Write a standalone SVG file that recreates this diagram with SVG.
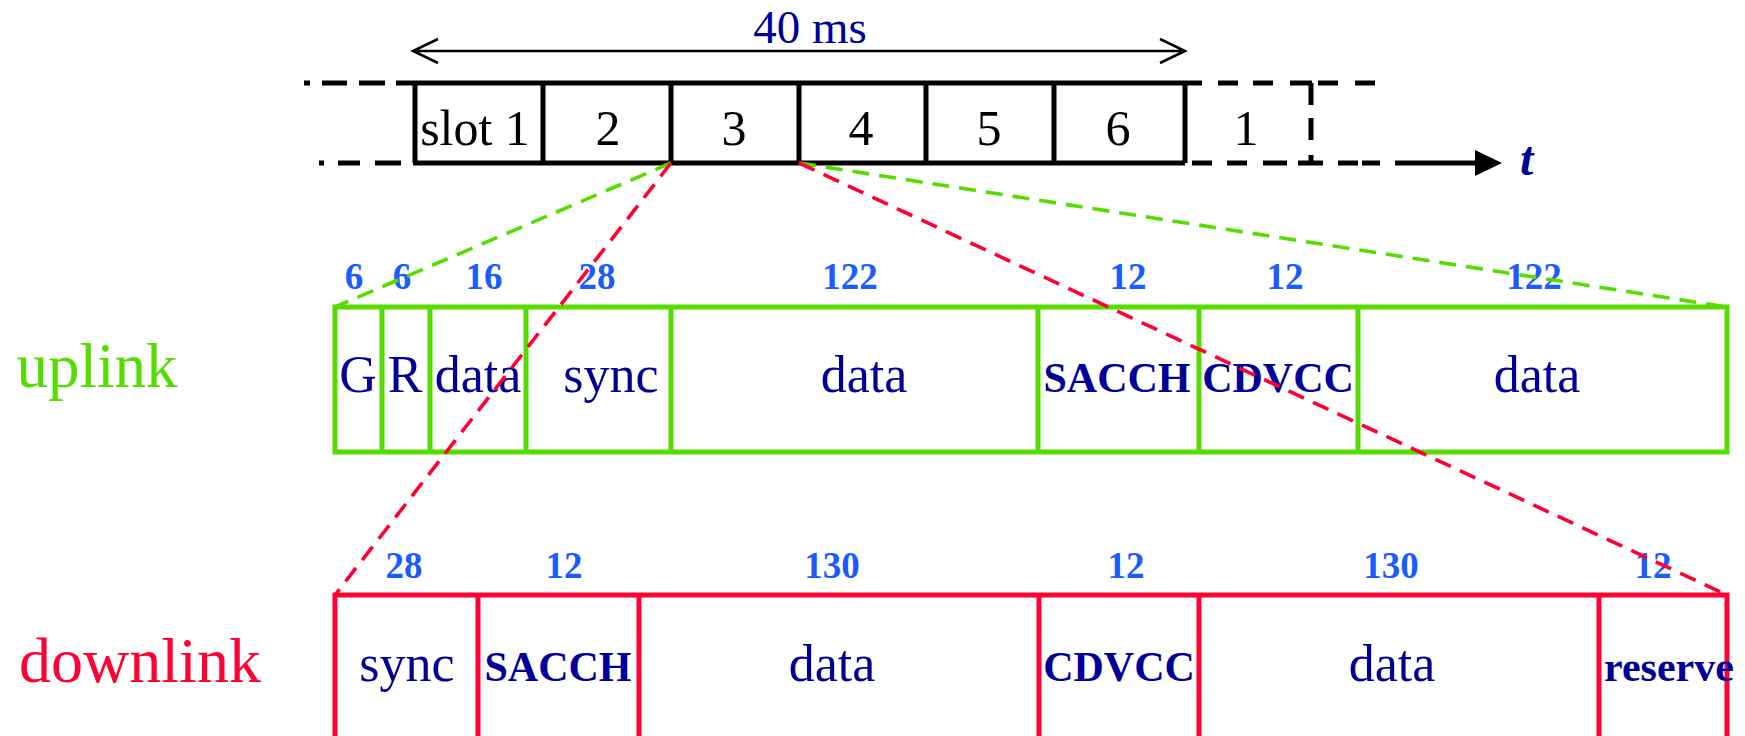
<svg xmlns="http://www.w3.org/2000/svg" width="1745" height="736" viewBox="0 0 1745 736">
  <style>
    .lbl { font-family: "Liberation Serif", "Times New Roman", serif; fill: #000099; text-anchor: middle; }
    .reg { font-size: 52px; }
    .bold { font-size: 42px; font-weight: bold; }
    .num { font-family: "Liberation Serif", "Times New Roman", serif; font-size: 37px; font-weight: bold; fill: #1a5cff; text-anchor: middle; }
    .slot { font-family: "Liberation Serif", "Times New Roman", serif; font-size: 50px; fill: #000000; text-anchor: middle; }
    .frame { fill: none; stroke: #000000; stroke-width: 5; }
    .up { fill: none; stroke: #55dd00; stroke-width: 5; }
    .down { fill: none; stroke: #ff0033; stroke-width: 5; }
    .gz { fill: none; stroke: #55dd00; stroke-width: 3.6; stroke-dasharray: 17 10; }
    .rz { fill: none; stroke: #ff0033; stroke-width: 3.6; stroke-dasharray: 17 10; }
  </style>

  <!-- frame duration -->
  <g id="duration">
    <path d="M413 51 H1185 M438 39 L413 51 L438 63 M1160 39 L1185 51 L1160 63" fill="none" stroke="#000" stroke-width="2.5"/>
    <text x="810" y="43" class="lbl" style="font-size:47px">40 ms</text>
  </g>

  <!-- TDMA frame of six slots -->
  <g id="frame">
    <path class="frame" d="M304 83 h6 M322 83 h25 M359 83 h26 M396 83 H1202"/>
    <path class="frame" d="M319 163 h5 M338 163 h22 M375 163 h26 M413 163 H1185"/>
    <path class="frame" d="M415 83 V163 M543 83 V163 M671 83 V163 M799 83 V163 M926 83 V163 M1054 83 V163 M1185 83 V163"/>
    <path class="frame" d="M1218 83 h20 M1253 83 h20 M1290 83 h22 M1318 83 h20 M1355 83 h20"/>
    <path class="frame" d="M1192 163 h20 M1227 163 h20 M1263 163 h24 M1298 163 h25 M1338 163 h20 M1362 163 h18"/>
    <path class="frame" d="M1311 83 v22 M1311 118 v22 M1311 155 v8"/>
    <path class="frame" d="M1395 163 H1478"/>
    <polygon points="1475,150 1502,163 1475,176" fill="#000"/>
    <text x="1520" y="175" style="font-family:'Liberation Serif',serif;font-size:48px;font-weight:bold;font-style:italic;fill:#000099">t</text>
    <text x="475" y="145" class="slot">slot 1</text>
    <text x="608" y="145" class="slot">2</text>
    <text x="734" y="145" class="slot">3</text>
    <text x="861" y="145" class="slot">4</text>
    <text x="989" y="145" class="slot">5</text>
    <text x="1118" y="145" class="slot">6</text>
    <text x="1246" y="145" class="slot">1</text>
  </g>

  <!-- uplink burst -->
  <g id="uplink">
    <text x="97" y="387" style="font-family:'Liberation Serif',serif;font-size:63px;fill:#55dd00;text-anchor:middle">uplink</text>
    <rect class="up" x="335" y="307" width="1392" height="145"/>
    <path class="up" d="M382 307 V452 M430 307 V452 M526 307 V452 M671 307 V452 M1038 307 V452 M1199 307 V452 M1358 307 V452"/>
    <text x="358" y="392" class="lbl reg">G</text>
    <text x="405" y="392" class="lbl reg">R</text>
    <text x="478" y="392" class="lbl reg">data</text>
    <text x="611" y="392" class="lbl reg">sync</text>
    <text x="864" y="392" class="lbl reg">data</text>
    <text x="1117" y="392" class="lbl bold">SACCH</text>
    <text x="1278" y="392" class="lbl bold">CDVCC</text>
    <text x="1537" y="392" class="lbl reg">data</text>
    <text x="354" y="289" class="num">6</text>
    <text x="402" y="289" class="num">6</text>
    <text x="484" y="289" class="num">16</text>
    <text x="597" y="289" class="num">28</text>
    <text x="850" y="289" class="num">122</text>
    <text x="1128" y="289" class="num">12</text>
    <text x="1285" y="289" class="num">12</text>
    <text x="1534" y="289" class="num">122</text>
  </g>

  <!-- downlink burst -->
  <g id="downlink">
    <text x="140" y="682" style="font-family:'Liberation Serif',serif;font-size:64px;fill:#ff0033;text-anchor:middle">downlink</text>
    <path class="down" d="M335 745 V595 H1727 V745"/>
    <path class="down" d="M478 595 V745 M639 595 V745 M1039 595 V745 M1199 595 V745 M1599 595 V745"/>
    <text x="407" y="681" class="lbl reg">sync</text>
    <text x="558" y="681" class="lbl bold">SACCH</text>
    <text x="832" y="681" class="lbl reg">data</text>
    <text x="1119" y="681" class="lbl bold">CDVCC</text>
    <text x="1392" y="681" class="lbl reg">data</text>
    <text x="1669" y="681" class="lbl bold">reserve</text>
    <text x="404" y="578" class="num">28</text>
    <text x="564" y="578" class="num">12</text>
    <text x="832" y="578" class="num">130</text>
    <text x="1126" y="578" class="num">12</text>
    <text x="1391" y="578" class="num">130</text>
    <text x="1653" y="578" class="num">12</text>
  </g>

  <!-- expansion lines from slot 3 -->
  <g id="connectors">
    <line class="gz" x1="671" y1="163" x2="335" y2="307"/>
    <line class="gz" x1="799" y1="163" x2="1727" y2="307"/>
    <line class="rz" x1="671" y1="163" x2="335" y2="595"/>
    <line class="rz" x1="799" y1="163" x2="1727" y2="595"/>
  </g>
</svg>
